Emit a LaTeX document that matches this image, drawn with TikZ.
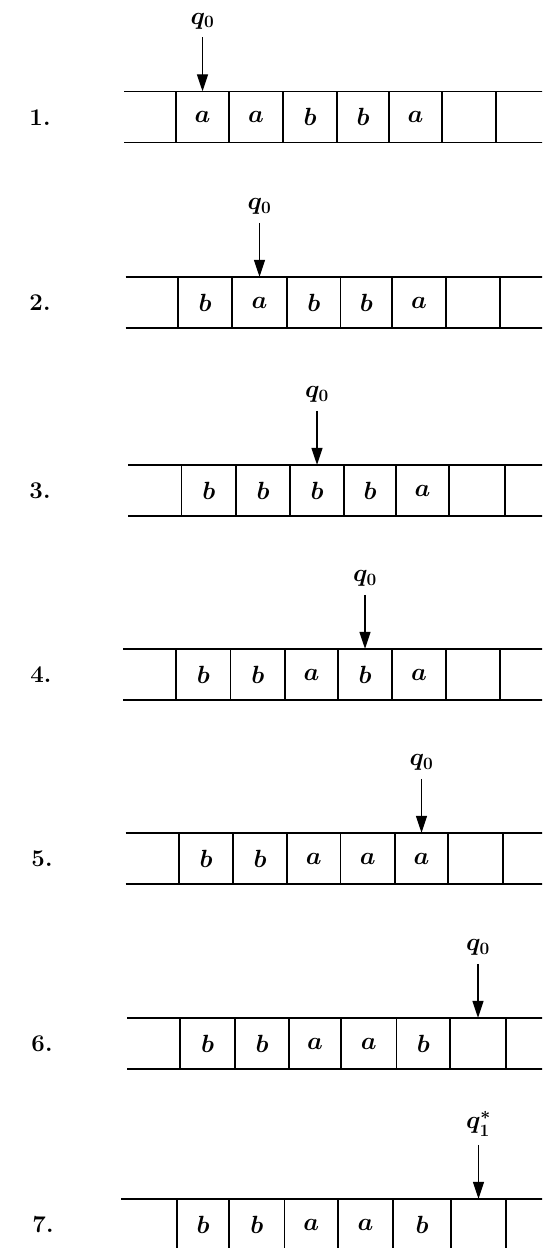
\documentclass[tikz,border=0pt]{standalone}
\usetikzlibrary{arrows.meta,positioning}
\tikzset{
  x=1pt, y=-1pt,
  tape/.style={line width=1.8pt},
  divider/.style={line width=1.7pt},
  cell/.style={inner sep=0pt, minimum height=51pt, font=\fontsize{27}{30}\selectfont\boldmath},
  statelbl/.style={inner sep=0pt, font=\fontsize{24}{27}\selectfont\boldmath},
  rowlbl/.style={inner sep=0pt, font=\fontsize{24}{27}\selectfont\bfseries},
  headarrow/.style={line width=1.3pt, -{Triangle[length=17pt,width=11pt]}, shorten <=8pt},
}
% #1 id, #2 top, #3 left end, #4 label x, #5 cells xl/xr/letter
\newcommand\tapeRow[5]{%
  \draw[tape] (#3,#2) -- (546,#2) (#3,#2+51) -- (546,#2+51);
  \node[rowlbl] (lab#1) at (#4,#2+26) {#1.};
  \foreach \xl/\xr/\cl [count=\i] in {#5}{
    \draw[divider] (\xl,#2) -- (\xl,#2+51);
    \node[cell, minimum width={(\xr-\xl)*1pt}] (r#1c\i) at ({(\xl+\xr)/2},#2+25.5) {$\cl$};
  }
}
\begin{document}
\begin{tikzpicture}
\path[use as bounding box] (0,0) rectangle (542,1248);
\clip (0,0) rectangle (542,1248);

\tapeRow{1}{91.5}{124}{40}{176/229/a,229/283/a,283/337/b,337/389/b,389/442/a,442/496/{},496/546/{}}
\tapeRow{2}{277}{125.5}{40}{178/232/b,232/287/a,287/340.5/b,340.5/392/b,392/446/a,446/500/{},500/546/{}}
\tapeRow{3}{465}{128}{40}{181.5/236/b,236/290/b,290/344/b,344/396/b,396/449/a,449/505/{},505/546/{}}
\tapeRow{4}{649}{123}{41}{176/230.5/b,230.5/285/b,285/338/a,338/392/b,392/446/a,446/500/{},500/546/{}}
\tapeRow{5}{833}{125.5}{42}{179/233/b,233/287/b,287/340.5/a,340.5/395/a,395/448/a,448/503/{},503/546/{}}
\tapeRow{6}{1018}{127}{42}{180/235/b,235/289/b,289/341/a,341/396.5/a,396.5/450/b,450/506/{},506/546/{}}
\tapeRow{7}{1199}{121}{43}{177/229/b,229/284.5/b,284.5/338/a,338/393/a,393/451/b,451/506/{},506/546/{}}

\node[statelbl, above=62pt of r1c1.north] (s1) {$q_0$};
\draw[headarrow] (s1) -- (r1c1.north);
\node[statelbl, above=62pt of r2c2.north] (s2) {$q_0$};
\draw[headarrow] (s2) -- (r2c2.north);
\node[statelbl, above=62pt of r3c3.north] (s3) {$q_0$};
\draw[headarrow] (s3) -- (r3c3.north);
\node[statelbl, above=62pt of r4c4.north] (s4) {$q_0$};
\draw[headarrow] (s4) -- (r4c4.north);
\node[statelbl, above=62pt of r5c5.north] (s5) {$q_0$};
\draw[headarrow] (s5) -- (r5c5.north);
\node[statelbl, above=62pt of r6c6.north] (s6) {$q_0$};
\draw[headarrow] (s6) -- (r6c6.north);
\node[statelbl, above=62pt of r7c6.north] (s7) {$q_1^*$};
\draw[headarrow] (s7) -- (r7c6.north);
\end{tikzpicture}
\end{document}
